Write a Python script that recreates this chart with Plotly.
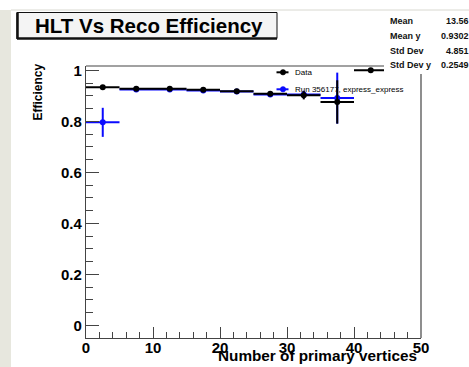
import plotly.graph_objects as go

# ---------------- data ----------------
bin_centers = [2.5, 7.5, 12.5, 17.5, 22.5, 27.5, 32.5, 37.5, 42.5]
bin_half_width = [2.5] * 9
data_eff = [0.934, 0.928, 0.928, 0.924, 0.918, 0.908, 0.902, 0.876, 1.0]
data_err = [0.004, 0.003, 0.003, 0.003, 0.004, 0.006, 0.016, 0.085, 0.0]

run_centers = [2.5, 7.5, 12.5, 17.5, 22.5, 27.5, 32.5, 37.5]
run_half_width = [2.5] * 8
run_eff = [0.796, 0.925, 0.925, 0.921, 0.917, 0.905, 0.905, 0.891]
run_err = [0.057, 0.004, 0.003, 0.003, 0.004, 0.006, 0.015, 0.100]

legend_labels = ["Data", "Run 356177, express_express"]
stat_names = ["Mean", "Mean y", "Std Dev", "Std Dev y"]
stat_values = ["13.56", "0.9302", "4.851", "0.2549"]

x_ticks = [0, 10, 20, 30, 40, 50]
y_ticks = [0, 0.2, 0.4, 0.6, 0.8, 1]
y_tick_text = ["0", "0.2", "0.4", "0.6", "0.8", "1"]

title_text = "HLT Vs Reco Efficiency"
x_title = "Number of primary vertices"
y_title = "Efficiency"

# ---------------- geometry ----------------
W, H = 469, 367
ML, MR, MT, MB = 86, 48, 66, 29
PW, PH = W - ML - MR, H - MT - MB


def px(x):
    return (x - ML) / PW


def py(y):
    return (H - MB - y) / PH


FONT = "Liberation Sans, Arial, sans-serif"
BLUE = "#0a0aff"
AX = "#444"

fig = go.Figure()

fig.add_trace(go.Scatter(
    x=run_centers, y=run_eff, mode="markers",
    marker=dict(color=BLUE, size=6),
    error_x=dict(type="data", array=run_half_width, color=BLUE, thickness=2, width=0),
    error_y=dict(type="data", array=run_err, color=BLUE, thickness=2, width=0),
    showlegend=False, cliponaxis=False,
))
fig.add_trace(go.Scatter(
    x=bin_centers, y=data_eff, mode="markers",
    marker=dict(color="black", size=6),
    error_x=dict(type="data", array=bin_half_width, color="black", thickness=2, width=0),
    error_y=dict(type="data", array=data_err, color="black", thickness=2, width=0),
    showlegend=False, cliponaxis=False,
))

shapes = []
annotations = []

# canvas decorations: left strip and top border line
shapes.append(dict(type="rect", xref="paper", yref="paper", x0=px(0), x1=px(11), y0=py(367), y1=py(10),
                   fillcolor="#e7e7de", line=dict(width=0), layer="below"))
shapes.append(dict(type="line", xref="paper", yref="paper", x0=px(11), x1=px(469), y0=py(10), y1=py(10),
                   line=dict(color="#d8d8d0", width=1), layer="below"))

# frame top and right (partly hidden by the stats box)
shapes.append(dict(type="line", xref="paper", yref="paper", x0=px(86), x1=px(421), y0=1, y1=1,
                   line=dict(color=AX, width=1.2), layer="above"))
shapes.append(dict(type="line", xref="paper", yref="paper", x0=1, x1=1, y0=0, y1=1,
                   line=dict(color=AX, width=1.2), layer="above"))

# stats box (white, covers frame corner)
shapes.append(dict(type="rect", xref="paper", yref="paper", x0=px(384), x1=px(472), y0=py(74), y1=py(11),
                   fillcolor="white", line=dict(width=0), layer="above"))
for i, (n, v) in enumerate(zip(stat_names, stat_values)):
    yy = 21.3 + i * 14.7
    annotations.append(dict(xref="paper", yref="paper", x=px(388), y=py(yy), text=n, showarrow=False,
                            xanchor="left", yanchor="middle",
                            font=dict(family=FONT, size=9, color="#111", weight="bold")))
    annotations.append(dict(xref="paper", yref="paper", x=px(470.5), y=py(yy), text=v, showarrow=False,
                            xanchor="right", yanchor="middle",
                            font=dict(family=FONT, size=9, color="#111", weight="bold")))

# title box
shapes.append(dict(type="rect", xref="paper", yref="paper", x0=px(17), x1=px(277), y0=py(38.5), y1=py(12.5),
                   fillcolor="#f4f4f4", line=dict(color="#111", width=1), layer="above"))
shapes.append(dict(type="line", xref="paper", yref="paper", x0=px(17.5), x1=px(17.5), y0=py(39), y1=py(12.5),
                   line=dict(color="#111", width=2.5), layer="above"))
shapes.append(dict(type="line", xref="paper", yref="paper", x0=px(17), x1=px(277), y0=py(38.5), y1=py(38.5),
                   line=dict(color="#111", width=2.5), layer="above"))
annotations.append(dict(xref="paper", yref="paper", x=px(149), y=py(25.5), text=title_text, showarrow=False,
                        xanchor="center", yanchor="middle",
                        font=dict(family=FONT, size=20.5, color="black", weight="bold")))

# legend
leg_rows = [(72.3, "black", legend_labels[0]), (89.3, BLUE, legend_labels[1])]
for yy, col, lab in leg_rows:
    shapes.append(dict(type="line", xref="paper", yref="paper", x0=px(276.5), x1=px(288.5), y0=py(yy), y1=py(yy),
                       line=dict(color=col, width=2), layer="above"))
    shapes.append(dict(type="circle", xref="paper", yref="paper", x0=px(280.3), x1=px(285.7),
                       y0=py(yy + 2.7), y1=py(yy - 2.7), fillcolor=col, line=dict(color=col, width=0.5),
                       layer="above"))
    annotations.append(dict(xref="paper", yref="paper", x=px(293), y=py(yy), text=lab, showarrow=False,
                            xanchor="left", yanchor="middle",
                            font=dict(family=FONT, size=8, color="#000")))

# axis titles
annotations.append(dict(xref="paper", yref="paper", x=px(419), y=py(355), text=x_title, showarrow=False,
                        xanchor="right", yanchor="middle",
                        font=dict(family=FONT, size=15.3, color="black", weight="bold")))
annotations.append(dict(xref="paper", yref="paper", x=px(37.5), y=py(92), text=y_title, showarrow=False,
                        xanchor="center", yanchor="middle", textangle=-90,
                        font=dict(family=FONT, size=12, color="black", weight="bold")))

fig.update_layout(
    width=W, height=H,
    margin=dict(l=ML, r=MR, t=MT, b=MB, pad=0, autoexpand=False),
    paper_bgcolor="white", plot_bgcolor="white",
    shapes=shapes, annotations=annotations,
    showlegend=False,
    xaxis=dict(range=[0, 50], tickvals=x_ticks, ticktext=[str(v) for v in x_ticks],
               ticks="inside", ticklen=11, tickwidth=1.2, tickcolor=AX,
               minor=dict(dtick=2, tick0=0, ticks="inside", ticklen=6, tickwidth=1.2, tickcolor=AX),
               showline=True, linecolor=AX, linewidth=1.2, mirror=False,
               showgrid=False, zeroline=False, automargin=False, ticklabelstandoff=-4,
               tickfont=dict(family=FONT, size=15, color="black", weight="bold")),
    yaxis=dict(range=[-0.05, 1.017], tickvals=y_ticks, ticktext=y_tick_text,
               ticks="inside", ticklen=13, tickwidth=1.2, tickcolor=AX,
               minor=dict(dtick=0.05, tick0=0, ticks="inside", ticklen=7, tickwidth=1.2, tickcolor=AX),
               showline=True, linecolor=AX, linewidth=1.2, mirror=False,
               showgrid=False, zeroline=False, automargin=False,
               tickfont=dict(family=FONT, size=15, color="black", weight="bold")),
)

fig.write_html("out.html")
